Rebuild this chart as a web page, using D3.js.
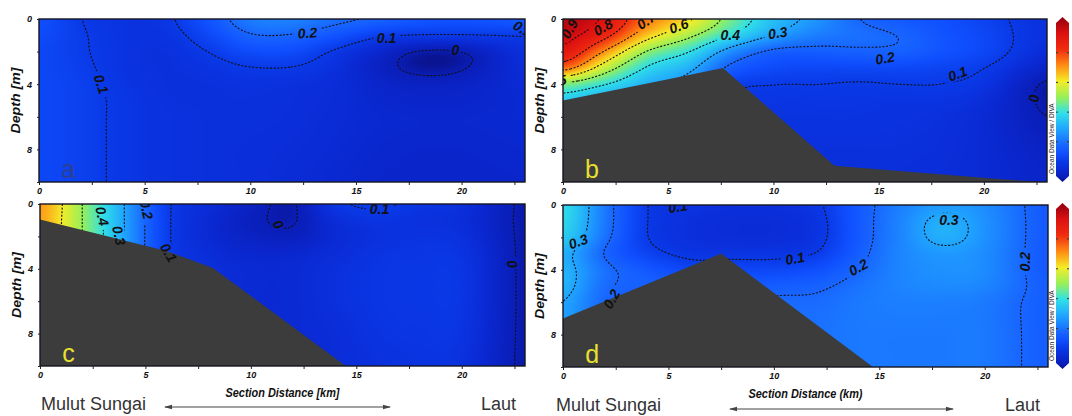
<!DOCTYPE html>
<html>
<head>
<meta charset="utf-8">
<script src="https://cdn.jsdelivr.net/npm/d3@7"></script>
<style>
body { margin: 0; background: #fff; }
svg { display: block; }
.axis text { font: italic bold 9px 'Liberation Sans Narrow', 'Liberation Sans', Arial, sans-serif; fill: #111; }
.axis line { stroke: #222; }
.axis path { display: none; }
</style>
</head>
<body>
<div id="chart"></div>
<script>
// grid of the sections: distance (km) x depth (m)
const xGrid = [0, 2, 4, 6, 8, 10, 12, 14, 16, 18, 20, 23];
const depthGrid = [0, 1, 2, 3, 4, 5, 6, 8, 10];

const fieldA = [
  [0.15, 0.10, 0.08, 0.09, 0.16, 0.24, 0.25, 0.22, 0.20, 0.17, 0.16, 0.18],
  [0.14, 0.105, 0.08, 0.08, 0.13, 0.195, 0.195, 0.16, 0.11, 0.10, 0.10, 0.10],
  [0.13, 0.105, 0.08, 0.07, 0.10, 0.14, 0.14, 0.09, 0.04, -0.01, -0.005, 0.07],
  [0.13, 0.11, 0.08, 0.07, 0.08, 0.097, 0.097, 0.07, 0.02, -0.015, -0.005, 0.06],
  [0.13, 0.115, 0.085, 0.07, 0.07, 0.075, 0.07, 0.06, 0.035, 0.02, 0.025, 0.05],
  [0.13, 0.115, 0.09, 0.072, 0.07, 0.07, 0.067, 0.057, 0.04, 0.03, 0.032, 0.045],
  [0.13, 0.115, 0.09, 0.075, 0.07, 0.07, 0.065, 0.055, 0.045, 0.04, 0.04, 0.045],
  [0.13, 0.115, 0.09, 0.075, 0.07, 0.065, 0.06, 0.05, 0.04, 0.035, 0.035, 0.04],
  [0.13, 0.115, 0.09, 0.075, 0.07, 0.065, 0.055, 0.045, 0.035, 0.03, 0.03, 0.035]
];
const fieldB = [
  [0.96, 0.89, 0.73, 0.62, 0.47, 0.35, 0.28, 0.20, 0.17, 0.15, 0.12, 0.07],
  [0.93, 0.83, 0.64, 0.52, 0.40, 0.30, 0.24, 0.22, 0.20, 0.16, 0.13, 0.07],
  [0.88, 0.69, 0.49, 0.40, 0.26, 0.18, 0.18, 0.19, 0.19, 0.16, 0.13, 0.06],
  [0.75, 0.55, 0.39, 0.32, 0.18, 0.14, 0.13, 0.13, 0.13, 0.12, 0.10, 0.03],
  [0.47, 0.40, 0.32, 0.26, 0.12, 0.10, 0.10, 0.095, 0.10, 0.10, 0.08, -0.01],
  [0.36, 0.31, 0.28, 0.22, 0.10, 0.085, 0.085, 0.085, 0.08, 0.08, 0.06, -0.01],
  [0.30, 0.27, 0.25, 0.20, 0.09, 0.08, 0.08, 0.08, 0.075, 0.07, 0.05, 0.00],
  [0.28, 0.25, 0.22, 0.18, 0.08, 0.07, 0.07, 0.07, 0.07, 0.065, 0.05, 0.02],
  [0.28, 0.25, 0.22, 0.18, 0.08, 0.07, 0.07, 0.07, 0.065, 0.06, 0.05, 0.03]
];
const fieldC = [
  [0.69, 0.50, 0.30, 0.11, 0.06, 0.02, -0.005, 0.09, 0.11, 0.09, 0.07, -0.01],
  [0.68, 0.50, 0.30, 0.11, 0.05, 0.01, -0.005, 0.06, 0.08, 0.07, 0.06, -0.01],
  [0.68, 0.50, 0.30, 0.11, 0.05, 0.02, 0.01, 0.05, 0.07, 0.08, 0.07, -0.01],
  [0.68, 0.50, 0.30, 0.11, 0.06, 0.04, 0.04, 0.06, 0.08, 0.085, 0.08, -0.01],
  [0.68, 0.50, 0.30, 0.11, 0.07, 0.05, 0.05, 0.07, 0.085, 0.09, 0.085, -0.01],
  [0.68, 0.50, 0.30, 0.11, 0.07, 0.05, 0.05, 0.07, 0.085, 0.09, 0.085, -0.01],
  [0.68, 0.50, 0.30, 0.11, 0.07, 0.05, 0.05, 0.07, 0.085, 0.09, 0.085, -0.01],
  [0.68, 0.50, 0.30, 0.11, 0.07, 0.05, 0.05, 0.06, 0.08, 0.085, 0.08, -0.01],
  [0.68, 0.50, 0.30, 0.11, 0.07, 0.05, 0.05, 0.06, 0.07, 0.08, 0.07, -0.01]
];
const fieldD = [
  [0.40, 0.23, 0.10, 0.08, 0.07, 0.07, 0.09, 0.17, 0.24, 0.28, 0.26, 0.17],
  [0.39, 0.23, 0.10, 0.07, 0.06, 0.06, 0.08, 0.17, 0.25, 0.32, 0.27, 0.17],
  [0.37, 0.22, 0.10, 0.07, 0.06, 0.06, 0.08, 0.17, 0.25, 0.32, 0.27, 0.17],
  [0.32, 0.19, 0.12, 0.085, 0.085, 0.085, 0.10, 0.18, 0.25, 0.28, 0.26, 0.17],
  [0.33, 0.22, 0.17, 0.13, 0.13, 0.13, 0.15, 0.20, 0.25, 0.27, 0.26, 0.17],
  [0.33, 0.21, 0.19, 0.18, 0.18, 0.18, 0.19, 0.22, 0.25, 0.26, 0.25, 0.18],
  [0.30, 0.20, 0.19, 0.19, 0.19, 0.21, 0.21, 0.23, 0.24, 0.24, 0.23, 0.18],
  [0.30, 0.20, 0.20, 0.20, 0.20, 0.21, 0.22, 0.23, 0.23, 0.23, 0.23, 0.18],
  [0.30, 0.20, 0.20, 0.20, 0.20, 0.21, 0.22, 0.23, 0.23, 0.23, 0.23, 0.18]
];

// sea floor profiles (km, depth m)
const bottomBx = [0, 5, 7.6, 12.9, 21, 23];
const bottomBdepth = [5.0, 3.7, 3.0, 9.0, 9.85, 10];
const bottomCx = [0, 6, 8.2, 14.5];
const bottomCdepth = [0.95, 2.9, 3.95, 10];
const bottomDx = [0, 7.5, 14.7];
const bottomDdepth = [7.0, 3.0, 10];

// contour labels: text, km, depth, angle
const labelsA = [["0.1", 2.95, 4.0, 72], ["0.2", 12.7, 0.85, -4], ["0.1", 16.45, 1.15, 0], ["0", 19.7, 1.9, 0], ["0.1", 22.9, 0.6, 30]];
const labelsB = [["0.9", 0.3, 0.6, -60], ["0.8", 1.9, 0.5, -30], ["0.7", 3.95, 0.1, -35], ["0.6", 5.5, 0.42, -20],
  ["0.5", -0.3, 3.8, -10], ["0.4", 7.95, 0.95, 0], ["0.3", 10.2, 0.85, -8], ["0.2", 15.3, 2.4, -10],
  ["0.1", 18.75, 3.35, -20], ["0", 22.4, 4.85, 90]];
const labelsC = [["0.4", 2.95, 0.75, 78], ["0.3", 3.75, 1.95, 78], ["0.2", 5.05, 0.35, 78], ["0.1", 6.1, 3.0, 60],
  ["0", 11.3, 1.25, 60], ["0.1", 16.1, 0.3, 0], ["0", 22.4, 3.7, 80]];
const labelsD = [["0.3", 0.72, 2.25, -20], ["0.1", 5.45, 0.1, -8], ["0.1", 11.0, 3.3, -10], ["0.2", 14.0, 3.85, -30],
  ["0.3", 18.3, 0.9, 0], ["0.2", 21.9, 3.5, -90], ["0.2", 2.3, 5.8, -60]];

const contourLevels = [0, 0.1, 0.2, 0.3, 0.4, 0.5, 0.6, 0.7, 0.8, 0.9];
const xTicks = [0, 2.5, 5, 7.5, 10, 12.5, 15, 17.5, 20, 22.5];
const depthTicks = [0, 2, 4, 6, 8, 10];

// ODV-like palette
const colorValues = [-0.03, 0, 0.05, 0.1, 0.15, 0.2, 0.3, 0.4, 0.5, 0.6, 0.7, 0.8, 0.9, 1.0];
const colorHex = ["#0a1080", "#0a1eb8", "#0a2ad4", "#0a3ae8", "#1050ff", "#1866ff", "#20a4ff", "#30e0e8",
  "#98f058", "#f4ec28", "#ff8a12", "#f02c10", "#dc1010", "#900010"];

const width = 1072, height = 416;
const svg = d3.select("#chart").append("svg").attr("width", width).attr("height", height);
const defs = svg.append("defs");

const color = d3.scaleLinear().domain(colorValues).range(colorHex).clamp(true);
const narrow = "'Liberation Sans Narrow', 'Liberation Sans', Arial, sans-serif";

defs.append("marker").attr("id", "arrow").attr("viewBox", "0 0 8 6")
  .attr("refX", 7).attr("refY", 3).attr("markerWidth", 8).attr("markerHeight", 6)
  .attr("markerUnits", "userSpaceOnUse").attr("orient", "auto-start-reverse")
  .append("path").attr("d", "M0,0.8 L8,3 L0,5.2 z").attr("fill", "#444");

function catmull(p0, p1, p2, p3, t) {
  return 0.5 * (2 * p1 + (-p0 + p2) * t + (2 * p0 - 5 * p1 + 4 * p2 - p3) * t * t + (-p0 + 3 * p1 - 3 * p2 + p3) * t * t * t);
}

function sampleField(field, km, dep) {
  const nX = xGrid.length, nD = depthGrid.length;
  const i = Math.min(nX - 2, Math.max(0, d3.bisectRight(xGrid, km) - 1));
  const j = Math.min(nD - 2, Math.max(0, d3.bisectRight(depthGrid, dep) - 1));
  const tx = (km - xGrid[i]) / (xGrid[i + 1] - xGrid[i]);
  const ty = (dep - depthGrid[j]) / (depthGrid[j + 1] - depthGrid[j]);
  const row = r => {
    const R = field[Math.max(0, Math.min(nD - 1, r))];
    const c = k => R[Math.max(0, Math.min(nX - 1, k))];
    return catmull(c(i - 1), c(i), c(i + 1), c(i + 2), tx);
  };
  return catmull(row(j - 1), row(j), row(j + 1), row(j + 2), ty);
}

const panels = [
  { id: "a", field: fieldA, bx: null, bd: null, labels: labelsA, x0: 39, x1: 525, y0: 19, y1: 182,
    letter: "a", letterColor: "#34407a", title: null },
  { id: "b", field: fieldB, bx: bottomBx, bd: bottomBdepth, labels: labelsB, x0: 563, x1: 1047, y0: 19, y1: 182,
    letter: "b", letterColor: "#e8e030", title: null, bar: [17, 182] },
  { id: "c", field: fieldC, bx: bottomCx, bd: bottomCdepth, labels: labelsC, x0: 40, x1: 525, y0: 204, y1: 366,
    letter: "c", letterColor: "#e8e030", title: "Section Distance [km]",
    notes: { left: 41, arrow: [165, 390, 407], laut: 481, base: 410 } },
  { id: "d", field: fieldD, bx: bottomDx, bd: bottomDdepth, labels: labelsD, x0: 563, x1: 1048, y0: 205, y1: 367,
    letter: "d", letterColor: "#e8e030", title: "Section Distance (km)", bar: [203, 369],
    notes: { left: 556, arrow: [730, 953, 409], laut: 1005, base: 411 } }
];

panels.forEach(p => {
  const x = d3.scaleLinear().domain([0, 23]).range([p.x0, p.x1]);
  const y = d3.scaleLinear().domain([0, 10]).range([p.y0, p.y1]);
  const w = p.x1 - p.x0, h = p.y1 - p.y0;

  defs.append("clipPath").attr("id", "clip-" + p.id)
    .append("rect").attr("x", p.x0).attr("y", p.y0).attr("width", w).attr("height", h);

  // sample the field on a fine pixel grid (one extra sample outside every edge)
  const step = 2;
  const nx = Math.ceil(w / step) + 3, ny = Math.ceil(h / step) + 3;
  const data = new Float64Array(nx * ny);
  for (let j = 0; j < ny; j++) {
    const dep = Math.max(0, Math.min(10, y.invert(p.y0 + (j - 1) * step)));
    for (let i = 0; i < nx; i++) {
      const km = Math.max(0, Math.min(23, x.invert(p.x0 + (i - 1) * step)));
      data[j * nx + i] = sampleField(p.field, km, dep);
    }
  }
  d3.blur2({ data, width: nx, height: ny }, 2);

  const canvas = document.createElement("canvas");
  canvas.width = nx; canvas.height = ny;
  const ctx = canvas.getContext("2d");
  const img = ctx.createImageData(nx, ny);
  for (let k = 0; k < nx * ny; k++) {
    const c = d3.rgb(color(data[k]));
    img.data[4 * k] = c.r; img.data[4 * k + 1] = c.g; img.data[4 * k + 2] = c.b; img.data[4 * k + 3] = 255;
  }
  ctx.putImageData(img, 0, 0);

  const plot = svg.append("g").attr("clip-path", `url(#clip-${p.id})`);
  plot.append("image")
    .attr("href", canvas.toDataURL())
    .attr("x", p.x0 - 1.5 * step).attr("y", p.y0 - 1.5 * step)
    .attr("width", nx * step).attr("height", ny * step)
    .attr("preserveAspectRatio", "none");

  // mask gaps in the contour lines under the labels
  const mask = defs.append("mask").attr("id", "mask-" + p.id)
    .attr("maskUnits", "userSpaceOnUse").attr("x", 0).attr("y", 0).attr("width", width).attr("height", height);
  mask.append("rect").attr("width", width).attr("height", height).attr("fill", "#fff");
  mask.selectAll("rect.gap").data(p.labels).join("rect").attr("class", "gap")
    .attr("x", d => -d[0].length * 3.9 - 2).attr("y", -6.5)
    .attr("width", d => d[0].length * 7.8 + 4).attr("height", 13)
    .attr("transform", d => `translate(${x(d[1])},${y(d[2])}) rotate(${d[3]})`)
    .attr("fill", "#000");

  const toPx = d3.geoTransform({
    point(cx, cy) { this.stream.point(p.x0 + (cx - 1.5) * step, p.y0 + (cy - 1.5) * step); }
  });
  const contours = d3.contours().size([nx, ny]).thresholds(contourLevels)(Array.from(data));
  plot.append("g").attr("mask", `url(#mask-${p.id})`)
    .selectAll("path").data(contours).join("path")
    .attr("d", d3.geoPath(toPx))
    .attr("fill", "none")
    .attr("stroke", "#111")
    .attr("stroke-width", 1.1)
    .attr("stroke-dasharray", "2,1.6");

  if (p.bx) {
    const pts = p.bx.map((v, k) => [v, p.bd[k]]);
    pts.push([23.5, 10.5], [-0.5, 10.5], [-0.5, p.bd[0]]);
    plot.append("path")
      .attr("d", d3.line().x(d => x(d[0])).y(d => y(d[1]))(pts) + "Z")
      .attr("fill", "#3c3c3c");
  }

  plot.selectAll("text.lab").data(p.labels).join("text").attr("class", "lab")
    .attr("transform", d => `translate(${x(d[1])},${y(d[2])}) rotate(${d[3]})`)
    .attr("text-anchor", "middle").attr("dy", "0.36em")
    .style("font", `italic bold 14px ${narrow}`)
    .attr("fill", "#111")
    .text(d => d[0]);

  plot.append("text")
    .attr("x", x(1.05)).attr("y", p.y1 - 4)
    .style("font", "25px 'Liberation Sans', Arial, sans-serif")
    .attr("fill", p.letterColor)
    .attr("fill-opacity", p.id === "a" ? 0.85 : 1)
    .text(p.letter);

  svg.append("rect")
    .attr("x", p.x0).attr("y", p.y0).attr("width", w).attr("height", h)
    .attr("fill", "none").attr("stroke", "#141422").attr("stroke-width", 1.4);

  svg.append("g").attr("class", "axis")
    .attr("transform", `translate(0,${p.y1})`)
    .call(d3.axisBottom(x).tickValues(xTicks).tickSize(3).tickPadding(3)
      .tickFormat(d => d % 5 === 0 ? d : ""));

  svg.append("g").attr("class", "axis")
    .attr("transform", `translate(${p.x0},0)`)
    .call(d3.axisLeft(y).tickValues(depthTicks).tickSize(2).tickPadding(5)
      .tickFormat(d => d % 4 === 0 ? d : ""));

  svg.append("text")
    .attr("transform", `translate(${p.x0 - 19},${(p.y0 + p.y1) / 2}) rotate(-90)`)
    .attr("text-anchor", "middle")
    .style("font", `italic bold 12px ${narrow}`)
    .attr("textLength", 66).attr("lengthAdjust", "spacingAndGlyphs")
    .attr("fill", "#111")
    .text("Depth [m]");

  if (p.title) {
    svg.append("text")
      .attr("x", (p.x0 + p.x1) / 2).attr("y", p.y1 + 31)
      .attr("text-anchor", "middle")
      .style("font", `italic bold 12px ${narrow}`)
      .attr("textLength", 114).attr("lengthAdjust", "spacingAndGlyphs")
      .attr("fill", "#111")
      .text(p.title);
  }

  if (p.notes) {
    const n = p.notes;
    svg.append("text").attr("x", n.left).attr("y", n.base)
      .style("font", "18px 'Liberation Sans', Arial, sans-serif").attr("fill", "#333")
      .text("Mulut Sungai");
    svg.append("text").attr("x", n.laut).attr("y", n.base)
      .style("font", "18px 'Liberation Sans', Arial, sans-serif").attr("fill", "#333")
      .text("Laut");
    svg.append("line")
      .attr("x1", n.arrow[0]).attr("x2", n.arrow[1]).attr("y1", n.arrow[2]).attr("y2", n.arrow[2])
      .attr("stroke", "#444").attr("stroke-width", 1)
      .attr("marker-start", "url(#arrow)").attr("marker-end", "url(#arrow)");
  }

  if (p.bar) {
    const [t, b] = p.bar, bl = 1056, br = 1069, cx = (bl + br) / 2, tip = 6;
    const gid = "grad-" + p.id;
    const grad = defs.append("linearGradient").attr("id", gid)
      .attr("x1", 0).attr("y1", 1).attr("x2", 0).attr("y2", 0);
    const lo = colorValues[0], hi = colorValues[colorValues.length - 1];
    grad.selectAll("stop").data(colorValues).join("stop")
      .attr("offset", d => (d - lo) / (hi - lo))
      .attr("stop-color", d => color(d));
    svg.append("path")
      .attr("d", `M${cx},${t} L${br},${t + tip} L${br},${b - tip} L${cx},${b} L${bl},${b - tip} L${bl},${t + tip} Z`)
      .attr("fill", `url(#${gid})`);
    const v = d3.scaleLinear().domain([lo, hi]).range([b - tip, t + tip]);
    svg.append("g").selectAll("path").data([0.2, 0.4, 0.6, 0.8]).join("path")
      .attr("d", d => `M${bl},${v(d)} h2 M${br},${v(d)} h-2`)
      .attr("stroke", "#333").attr("stroke-width", 1);
    svg.append("text")
      .attr("transform", `translate(1054,${b - 8}) rotate(-90)`)
      .style("font", "6.5px 'Liberation Sans', Arial, sans-serif").attr("fill", "#222")
      .text("Ocean Data View / DIVA");
  }
});
</script>
</body>
</html>
